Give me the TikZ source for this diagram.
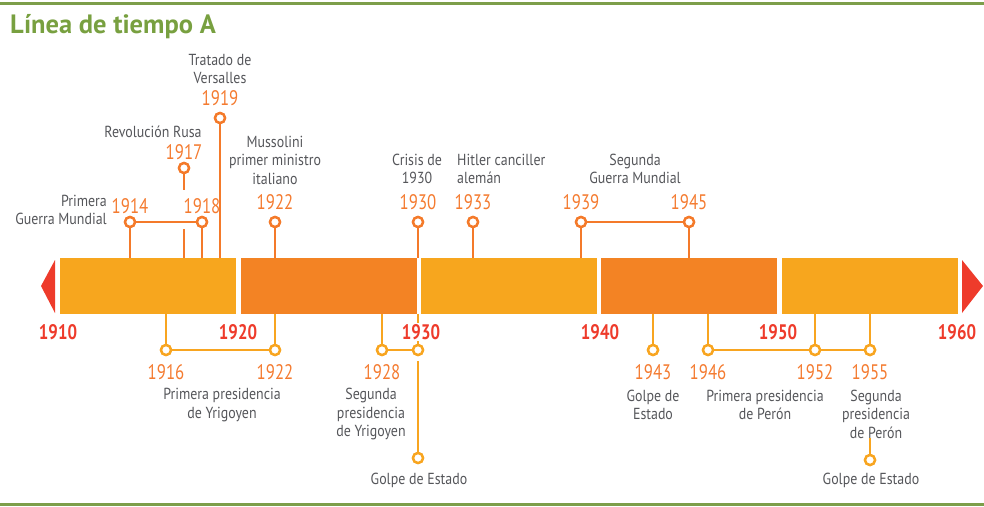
\documentclass[tikz,border=0pt]{standalone}
\usepackage{fontspec}
\setmainfont{PT Sans}
\newfontfamily\gfont[FakeStretch=0.87]{PT Sans}
\newfontfamily\yfont[FakeStretch=0.8]{PT Sans}
\newfontfamily\tfont{PT Sans}
\definecolor{barY}{HTML}{F7A61E}
\definecolor{barO}{HTML}{F38324}
\definecolor{stemO}{HTML}{F47A2A}
\definecolor{stemY}{HTML}{F8A520}
\definecolor{yearO}{HTML}{F47B30}
\definecolor{redY}{HTML}{EE3B2B}
\definecolor{grayT}{HTML}{55565A}
\definecolor{greenT}{HTML}{78A040}
\definecolor{greenL}{HTML}{7D9E4A}
\tikzset{
  gtext/.style={font=\gfont\fontsize{16}{18.5}\selectfont, text=grayT, align=center, inner sep=0pt},
  yrO/.style={font=\yfont\fontsize{21}{21}\selectfont, text=yearO, inner sep=0pt},
  yrR/.style={font=\yfont\bfseries\fontsize{21}{21}\selectfont, text=redY, inner sep=1pt},
  dotO/.style={circle, draw=stemO, fill=white, line width=2.4pt, minimum size=10pt, inner sep=0pt},
  dotY/.style={circle, draw=stemY, fill=white, line width=2.4pt, minimum size=10pt, inner sep=0pt},
  lnO/.style={draw=stemO, line width=2.4pt},
  lnY/.style={draw=stemY, line width=2.4pt},
  segY/.style={fill=barY, draw=none, minimum width=176pt, minimum height=56pt, inner sep=0pt},
  segO/.style={fill=barO, draw=none, minimum width=176pt, minimum height=56pt, inner sep=0pt},
}
\begin{document}
\begin{tikzpicture}[x=1pt,y=-1pt]
\useasboundingbox (0,0) rectangle (984,506);
% frame lines
\coordinate (tl) at (0,3); \coordinate (tr) at (984,3);
\coordinate (bl) at (0,504.5); \coordinate (br) at (984,504.5);
\draw[greenL, line width=3pt] (tl) -- (tr);
\draw[greenL, line width=3pt] (bl) -- (br);
% title
\node[anchor=west, font=\tfont\bfseries\fontsize{26.5}{26.5}\selectfont, text=greenT, inner sep=0pt] (title) at (10,27) {Línea de tiempo A};
% bar
\node[segY] (s1) at (148,286) {};
\node[segO] (s2) at (328.5,286) {};
\node[segY] (s3) at (509,286) {};
\node[segO] (s4) at (689,286) {};
\node[segY] (s5) at (869.5,286) {};
\fill[redY] (41,286) -- (55,260) -- (55,313) -- cycle;
\fill[redY] (983,286) -- (962,260) -- (962,313) -- cycle;
% ---------- top events ----------
\node[dotO] (c1914) at (130,222) {};
\node[dotO] (c1917) at (184,168) {};
\node[dotO] (c1918) at (202,222) {};
\node[dotO] (c1919) at (220,118) {};
\node[dotO] (c1922) at (275,222) {};
\node[dotO] (c1930) at (418,222) {};
\node[dotO] (c1933) at (473,222) {};
\node[dotO] (c1939) at (581,222) {};
\node[dotO] (c1945) at (689,222) {};
\coordinate (k1917a) at (184,190);
\coordinate (k1917b) at (184,229);
\draw[lnO] (c1914) -- (c1914 |- s1.north);
\draw[lnO] (c1918) -- (c1918 |- s1.north);
\draw[lnO] (c1914) -- (c1918);
\draw[lnO] (c1917) -- (k1917a);
\draw[lnO] (k1917b) -- (k1917b |- s1.north);
\draw[lnO] (c1919) -- (c1919 |- s1.north);
\draw[lnO] (c1922) -- (c1922 |- s2.north);
\draw[lnO] (c1930) -- (c1930 |- s3.north);
\draw[lnO] (c1933) -- (c1933 |- s3.north);
\draw[lnO] (c1939) -- (c1939 |- s3.north);
\draw[lnO] (c1945) -- (c1945 |- s4.north);
\draw[lnO] (c1939) -- (c1945);
\foreach \n in {c1914,c1917,c1918,c1919,c1922,c1930,c1933,c1939,c1945} \node[dotO] at (\n) {};
\node[yrO] (y1914) at (130,206) {1914};
\node[yrO] (y1917) at (184,152) {1917};
\node[yrO] (y1918) at (202,206) {1918};
\node[yrO] (y1919) at (220,98) {1919};
\node[yrO] (y1922) at (275,202) {1922};
\node[yrO] (y1930) at (418,202) {1930};
\node[yrO] (y1933) at (473,202) {1933};
\node[yrO] (y1939) at (581,202) {1939};
\node[yrO] (y1945) at (689,202) {1945};
\node[gtext, align=right, anchor=east] (t1914) at (107,210) {Primera\\Guerra Mundial};
\node[gtext] (t1917) at (153,132) {Revolución Rusa};
\node[gtext] (t1919) at (220,69) {Tratado de\\Versalles};
\node[gtext] (t1922) at (275,160) {Mussolini\\primer ministro\\italiano};
\node[gtext] (t1930) at (417,169) {Crisis de\\1930};
\node[gtext, align=left, anchor=west] (t1933) at (457,169) {Hitler canciller\\alemán};
\node[gtext] (t1939) at (635,169) {Segunda\\Guerra Mundial};
% ---------- bottom events ----------
\node[dotY] (d1916) at (166,350) {};
\node[dotY] (d1922) at (275,350) {};
\node[dotY] (d1928) at (382,350) {};
\node[dotY] (d1930) at (418,350) {};
\node[dotY] (g1930) at (418,458) {};
\node[dotY] (d1943) at (653,350) {};
\node[dotY] (d1946) at (708,350) {};
\node[dotY] (d1952) at (815,350) {};
\node[dotY] (d1955) at (870,350) {};
\node[dotY] (g1955) at (870,460) {};
\draw[lnY] (d1916) -- (d1916 |- s1.south);
\draw[lnY] (d1922) -- (d1922 |- s2.south);
\draw[lnY] (d1916) -- (d1922);
\draw[lnY] (d1928) -- (d1928 |- s2.south);
\draw[lnY] (d1930) -- (d1930 |- s3.south);
\draw[lnY] (d1928) -- (d1930);
\draw[lnY, shorten <=5pt] (d1930) -- (g1930);
\draw[lnY] (d1943) -- (d1943 |- s4.south);
\draw[lnY] (d1946) -- (d1946 |- s4.south);
\draw[lnY] (d1952) -- (d1952 |- s5.south);
\draw[lnY] (d1955) -- (d1955 |- s5.south);
\draw[lnY] (d1946) -- (d1955);
\foreach \n in {d1916,d1922,d1928,d1930,g1930,d1943,d1946,d1952,d1955} \node[dotY] at (\n) {};
% decade labels
\node[yrR] (r1910) at (58,332) {1910};
\node[yrR] (r1920) at (238,332) {1920};
\node[yrR, fill=white] (r1930) at (421,332) {1930};
\node[yrR] (r1940) at (600,332) {1940};
\node[yrR] (r1950) at (778,332) {1950};
\node[yrR] (r1960) at (957,332) {1960};
% bottom year labels
\node[yrO] (z1916) at (166,372) {1916};
\node[yrO] (z1922) at (275,372) {1922};
\node[yrO] (z1928) at (382,372) {1928};
\node[yrO] (z1943) at (653,372) {1943};
\node[yrO] (z1946) at (708,372) {1946};
\node[yrO] (z1952) at (815,372) {1952};
\node[yrO] (z1955) at (870,372) {1955};
\node[gtext] (b1916) at (222,405) {Primera presidencia\\de Yrigoyen};
\node[gtext] (b1928) at (371,414) {Segunda\\presidencia\\de Yrigoyen};
\node[gtext] (bg1930) at (419,480) {Golpe de Estado};
\node[gtext] (b1943) at (653,405) {Golpe de\\Estado};
\node[gtext] (b1946) at (765,405) {Primera presidencia\\de Perón};
\node[gtext] (b1955) at (876,414) {Segunda\\presidencia\\de Perón};
\node[gtext] (bg1955) at (871,480) {Golpe de Estado};
\draw[lnY] (g1955) -- (g1955 |- b1955.south);
\node[dotY] at (g1955) {};
\end{tikzpicture}
\end{document}
